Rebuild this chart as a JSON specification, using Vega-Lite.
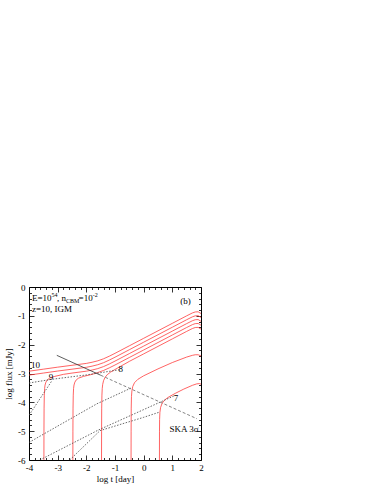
{
"$schema": "https://vega.github.io/schema/vega-lite/v6.json",
"autosize": {"type": "none"},
"padding": {"left": 29, "top": 287, "right": 173, "bottom": 24},
"width": 172,
"height": 173,
"background": "white",
"config": {"view": {"stroke": "black", "strokeWidth": 1}, "font": "Liberation Serif"},
"datasets": {
"red": [
{"s":"r1","i":0,"x":-4,"y":-2.92},{"s":"r1","i":1,"x":-3.5,"y":-2.85},{"s":"r1","i":2,"x":-3,"y":-2.78},{"s":"r1","i":3,"x":-2.5,"y":-2.715},{"s":"r1","i":4,"x":-2,"y":-2.65},{"s":"r1","i":5,"x":-1.8,"y":-2.61},{"s":"r1","i":6,"x":-1.6,"y":-2.56},{"s":"r1","i":7,"x":-1.4,"y":-2.49},{"s":"r1","i":8,"x":-1.2,"y":-2.4},{"s":"r1","i":9,"x":-1.0,"y":-2.3},{"s":"r1","i":10,"x":-0.5,"y":-2.04},{"s":"r1","i":11,"x":0,"y":-1.78},{"s":"r1","i":12,"x":0.5,"y":-1.52},{"s":"r1","i":13,"x":1,"y":-1.26},{"s":"r1","i":14,"x":1.5,"y":-1.0},{"s":"r1","i":15,"x":1.7,"y":-0.9},{"s":"r1","i":16,"x":1.8,"y":-0.865},{"s":"r1","i":17,"x":1.9,"y":-0.86},{"s":"r1","i":18,"x":2,"y":-0.92},
{"s":"r2","i":0,"x":-4,"y":-3.055},{"s":"r2","i":1,"x":-3.5,"y":-2.985},{"s":"r2","i":2,"x":-3,"y":-2.915},{"s":"r2","i":3,"x":-2.5,"y":-2.85},{"s":"r2","i":4,"x":-2,"y":-2.785},{"s":"r2","i":5,"x":-1.8,"y":-2.745},{"s":"r2","i":6,"x":-1.6,"y":-2.695},{"s":"r2","i":7,"x":-1.4,"y":-2.625},{"s":"r2","i":8,"x":-1.2,"y":-2.535},{"s":"r2","i":9,"x":-1.0,"y":-2.435},{"s":"r2","i":10,"x":-0.5,"y":-2.175},{"s":"r2","i":11,"x":0,"y":-1.915},{"s":"r2","i":12,"x":0.5,"y":-1.655},{"s":"r2","i":13,"x":1,"y":-1.395},{"s":"r2","i":14,"x":1.5,"y":-1.135},{"s":"r2","i":15,"x":1.7,"y":-1.035},{"s":"r2","i":16,"x":1.8,"y":-1.0},{"s":"r2","i":17,"x":1.9,"y":-0.995},{"s":"r2","i":18,"x":2,"y":-1.055},
{"s":"r3","i":0,"x":-3.48,"y":-6},{"s":"r3","i":1,"x":-3.478,"y":-5},{"s":"r3","i":2,"x":-3.474,"y":-4.2},{"s":"r3","i":3,"x":-3.466,"y":-3.75},{"s":"r3","i":4,"x":-3.455,"y":-3.52},{"s":"r3","i":5,"x":-3.44,"y":-3.4},{"s":"r3","i":6,"x":-3.41,"y":-3.3},{"s":"r3","i":7,"x":-3.36,"y":-3.22},{"s":"r3","i":8,"x":-3.28,"y":-3.16},{"s":"r3","i":9,"x":-3.1,"y":-3.1},{"s":"r3","i":10,"x":-2.8,"y":-3.03},{"s":"r3","i":11,"x":-2.5,"y":-2.985},{"s":"r3","i":12,"x":-2,"y":-2.92},{"s":"r3","i":13,"x":-1.8,"y":-2.88},{"s":"r3","i":14,"x":-1.6,"y":-2.83},{"s":"r3","i":15,"x":-1.4,"y":-2.76},{"s":"r3","i":16,"x":-1.2,"y":-2.67},{"s":"r3","i":17,"x":-1.0,"y":-2.57},{"s":"r3","i":18,"x":-0.5,"y":-2.31},{"s":"r3","i":19,"x":0,"y":-2.05},{"s":"r3","i":20,"x":0.5,"y":-1.79},{"s":"r3","i":21,"x":1,"y":-1.53},{"s":"r3","i":22,"x":1.5,"y":-1.27},{"s":"r3","i":23,"x":1.7,"y":-1.17},{"s":"r3","i":24,"x":1.8,"y":-1.135},{"s":"r3","i":25,"x":1.9,"y":-1.13},{"s":"r3","i":26,"x":2,"y":-1.19},
{"s":"r4","i":0,"x":-2.47,"y":-6},{"s":"r4","i":1,"x":-2.468,"y":-5},{"s":"r4","i":2,"x":-2.464,"y":-4.2},{"s":"r4","i":3,"x":-2.456,"y":-3.75},{"s":"r4","i":4,"x":-2.445,"y":-3.52},{"s":"r4","i":5,"x":-2.43,"y":-3.4},{"s":"r4","i":6,"x":-2.4,"y":-3.3},{"s":"r4","i":7,"x":-2.35,"y":-3.22},{"s":"r4","i":8,"x":-2.27,"y":-3.16},{"s":"r4","i":9,"x":-2.1,"y":-3.1},{"s":"r4","i":10,"x":-1.8,"y":-3.03},{"s":"r4","i":11,"x":-1.6,"y":-2.965},{"s":"r4","i":12,"x":-1.4,"y":-2.895},{"s":"r4","i":13,"x":-1.2,"y":-2.805},{"s":"r4","i":14,"x":-1.0,"y":-2.705},{"s":"r4","i":15,"x":-0.5,"y":-2.445},{"s":"r4","i":16,"x":0,"y":-2.185},{"s":"r4","i":17,"x":0.5,"y":-1.925},{"s":"r4","i":18,"x":1,"y":-1.665},{"s":"r4","i":19,"x":1.5,"y":-1.405},{"s":"r4","i":20,"x":1.7,"y":-1.305},{"s":"r4","i":21,"x":1.8,"y":-1.27},{"s":"r4","i":22,"x":1.9,"y":-1.265},{"s":"r4","i":23,"x":2,"y":-1.325},
{"s":"r5","i":0,"x":-1.47,"y":-6},{"s":"r5","i":1,"x":-1.468,"y":-5},{"s":"r5","i":2,"x":-1.464,"y":-4.2},{"s":"r5","i":3,"x":-1.456,"y":-3.75},{"s":"r5","i":4,"x":-1.445,"y":-3.52},{"s":"r5","i":5,"x":-1.43,"y":-3.38},{"s":"r5","i":6,"x":-1.4,"y":-3.25},{"s":"r5","i":7,"x":-1.35,"y":-3.14},{"s":"r5","i":8,"x":-1.27,"y":-3.04},{"s":"r5","i":9,"x":-1.15,"y":-2.95},{"s":"r5","i":10,"x":-1.0,"y":-2.86},{"s":"r5","i":11,"x":-0.5,"y":-2.58},{"s":"r5","i":12,"x":0,"y":-2.32},{"s":"r5","i":13,"x":0.5,"y":-2.06},{"s":"r5","i":14,"x":1,"y":-1.8},{"s":"r5","i":15,"x":1.5,"y":-1.54},{"s":"r5","i":16,"x":1.7,"y":-1.44},{"s":"r5","i":17,"x":1.8,"y":-1.405},{"s":"r5","i":18,"x":1.9,"y":-1.4},{"s":"r5","i":19,"x":2,"y":-1.46},
{"s":"r6","i":0,"x":-0.44,"y":-6},{"s":"r6","i":1,"x":-0.438,"y":-5},{"s":"r6","i":2,"x":-0.434,"y":-4.2},{"s":"r6","i":3,"x":-0.426,"y":-3.8},{"s":"r6","i":4,"x":-0.41,"y":-3.6},{"s":"r6","i":5,"x":-0.38,"y":-3.45},{"s":"r6","i":6,"x":-0.32,"y":-3.32},{"s":"r6","i":7,"x":-0.2,"y":-3.2},{"s":"r6","i":8,"x":0,"y":-3.08},{"s":"r6","i":9,"x":0.5,"y":-2.84},{"s":"r6","i":10,"x":1,"y":-2.62},{"s":"r6","i":11,"x":1.5,"y":-2.43},{"s":"r6","i":12,"x":1.7,"y":-2.37},{"s":"r6","i":13,"x":1.8,"y":-2.35},{"s":"r6","i":14,"x":1.9,"y":-2.35},{"s":"r6","i":15,"x":2,"y":-2.39},
{"s":"r7","i":0,"x":0.55,"y":-6},{"s":"r7","i":1,"x":0.552,"y":-5},{"s":"r7","i":2,"x":0.556,"y":-4.6},{"s":"r7","i":3,"x":0.566,"y":-4.35},{"s":"r7","i":4,"x":0.59,"y":-4.18},{"s":"r7","i":5,"x":0.64,"y":-4.04},{"s":"r7","i":6,"x":0.72,"y":-3.93},{"s":"r7","i":7,"x":0.85,"y":-3.83},{"s":"r7","i":8,"x":1.1,"y":-3.69},{"s":"r7","i":9,"x":1.4,"y":-3.54},{"s":"r7","i":10,"x":1.7,"y":-3.41},{"s":"r7","i":11,"x":1.85,"y":-3.36},{"s":"r7","i":12,"x":1.95,"y":-3.35},{"s":"r7","i":13,"x":2,"y":-3.37}
],
"dot": [
{"s":"d1","i":0,"x":-4,"y":-3.33},{"s":"d1","i":1,"x":-3.2,"y":-3.2},{"s":"d1","i":2,"x":-2,"y":-3.05},{"s":"d1","i":3,"x":-0.85,"y":-2.87},
{"s":"d2","i":0,"x":-4,"y":-4.45},{"s":"d2","i":1,"x":-3.2,"y":-3.25},
{"s":"d3","i":0,"x":-4,"y":-5.39},{"s":"d3","i":1,"x":-1.63,"y":-4.05},{"s":"d3","i":2,"x":-0.43,"y":-3.5},
{"s":"d4","i":0,"x":-3.62,"y":-6},{"s":"d4","i":1,"x":-1.6,"y":-4.97},{"s":"d4","i":2,"x":1.05,"y":-3.78},
{"s":"d5","i":0,"x":-2.58,"y":-6},{"s":"d5","i":1,"x":-1.52,"y":-4.98},{"s":"d5","i":2,"x":0,"y":-4.52},{"s":"d5","i":3,"x":0.55,"y":-4.34}
],
"ska1": [{"x":-3.03,"y":-2.37},{"x":-1.5,"y":-3.06}],
"ska2": [{"x":-1.5,"y":-3.06},{"x":1.86,"y":-4.57}],
"txt": [
{"x":-3.895,"y":-0.87,"t":"z=10, IGM"},
{"x":1.28,"y":-0.59,"t":"(b)"},
{"x":-3.93,"y":-2.82,"t":"10"},
{"x":-3.31,"y":-3.22,"t":"9"},
{"x":-0.88,"y":-2.95,"t":"8"},
{"x":1.05,"y":-3.94,"t":"7"},
{"x":0.905,"y":-5.04,"t":"SKA 3σ"},
{"x":-3.895,"y":-0.488,"t":"E=10"},
{"x":-3.02,"y":-0.488,"t":", n"},
{"x":-2.27,"y":-0.488,"t":"=10"}
],
"sup": [
{"x":-3.213,"y":-0.35,"t":"54"},
{"x":-1.78,"y":-0.35,"t":"-2"},
{"x":-2.706,"y":-0.56,"t":"CBM"}
]
},
"layer": [
{
"data": {"name": "red"},
"mark": {"type": "line", "color": "#ff3030", "strokeWidth": 0.75, "clip": true},
"encoding": {
"x": {"field": "x", "type": "quantitative", "scale": {"domain": [-4, 2], "nice": false, "zero": false},
"axis": {"orient": "bottom", "values": [-4,-3,-2,-1,0,1,2], "ticks": false, "domain": false, "grid": false, "labelFlush": false, "labelOverlap": false, "labelExpr": "'' + datum.value", "labelFont": "Liberation Serif", "labelFontSize": 9, "labelColor": "black", "labelPadding": 3, "title": "log t [day]", "titleFont": "Liberation Serif", "titleFontSize": 9, "titleFontWeight": "normal", "titleColor": "black", "titlePadding": 2}},
"y": {"field": "y", "type": "quantitative", "scale": {"domain": [-6, 0], "nice": false, "zero": false},
"axis": {"orient": "left", "values": [-6,-5,-4,-3,-2,-1,0], "ticks": false, "domain": false, "grid": false, "labelFlush": false, "labelOverlap": false, "labelExpr": "'' + datum.value", "labelFont": "Liberation Serif", "labelFontSize": 9, "labelColor": "black", "labelPadding": 4, "title": "log flux [mJy]", "titleFont": "Liberation Serif", "titleFontSize": 9, "titleFontWeight": "normal", "titleColor": "black", "titlePadding": 4}},
"detail": {"field": "s"},
"order": {"field": "i", "type": "quantitative"}
}
},
{
"data": {"name": "dot"},
"mark": {"type": "line", "color": "#444444", "strokeWidth": 0.8, "strokeDash": [1.5, 1.5], "clip": true},
"encoding": {
"x": {"field": "x", "type": "quantitative",
"axis": {"orient": "bottom", "values": [-4,-3.8,-3.6,-3.4,-3.2,-3,-2.8,-2.6,-2.4,-2.2,-2,-1.8,-1.6,-1.4,-1.2,-1,-0.8,-0.6,-0.4,-0.2,0,0.2,0.4,0.6,0.8,1,1.2,1.4,1.6,1.8,2], "labels": false, "domain": false, "grid": false, "tickColor": "black", "tickWidth": 0.8, "tickSize": {"condition": {"test": "abs(datum.value % 1) < 0.001", "value": -5}, "value": -2.5}, "title": null}},
"y": {"field": "y", "type": "quantitative",
"axis": {"orient": "left", "values": [-6,-5.8,-5.6,-5.4,-5.2,-5,-4.8,-4.6,-4.4,-4.2,-4,-3.8,-3.6,-3.4,-3.2,-3,-2.8,-2.6,-2.4,-2.2,-2,-1.8,-1.6,-1.4,-1.2,-1,-0.8,-0.6,-0.4,-0.2,0], "labels": false, "domain": false, "grid": false, "tickColor": "black", "tickWidth": 0.8, "tickSize": {"condition": {"test": "abs(datum.value % 1) < 0.001", "value": -5}, "value": -2.5}, "title": null}},
"detail": {"field": "s"},
"order": {"field": "i", "type": "quantitative"}
}
},
{
"data": {"name": "ska1"},
"mark": {"type": "line", "color": "#333333", "strokeWidth": 0.8},
"encoding": {
"x": {"field": "x", "type": "quantitative",
"axis": {"orient": "top", "values": [-4,-3.8,-3.6,-3.4,-3.2,-3,-2.8,-2.6,-2.4,-2.2,-2,-1.8,-1.6,-1.4,-1.2,-1,-0.8,-0.6,-0.4,-0.2,0,0.2,0.4,0.6,0.8,1,1.2,1.4,1.6,1.8,2], "labels": false, "domain": false, "grid": false, "tickColor": "black", "tickWidth": 0.8, "tickSize": {"condition": {"test": "abs(datum.value % 1) < 0.001", "value": -5}, "value": -2.5}, "title": null}},
"y": {"field": "y", "type": "quantitative",
"axis": {"orient": "right", "values": [-6,-5.8,-5.6,-5.4,-5.2,-5,-4.8,-4.6,-4.4,-4.2,-4,-3.8,-3.6,-3.4,-3.2,-3,-2.8,-2.6,-2.4,-2.2,-2,-1.8,-1.6,-1.4,-1.2,-1,-0.8,-0.6,-0.4,-0.2,0], "labels": false, "domain": false, "grid": false, "tickColor": "black", "tickWidth": 0.8, "tickSize": {"condition": {"test": "abs(datum.value % 1) < 0.001", "value": -5}, "value": -2.5}, "title": null}}
}
},
{
"data": {"name": "ska2"},
"mark": {"type": "line", "color": "#666666", "strokeWidth": 0.8, "strokeDash": [3, 2]},
"encoding": {
"x": {"field": "x", "type": "quantitative", "axis": null},
"y": {"field": "y", "type": "quantitative", "axis": null}
}
},
{
"data": {"name": "txt"},
"mark": {"type": "text", "align": "left", "baseline": "alphabetic", "font": "Liberation Serif", "fontSize": 9, "color": "black"},
"encoding": {
"x": {"field": "x", "type": "quantitative", "axis": null},
"y": {"field": "y", "type": "quantitative", "axis": null},
"text": {"field": "t"}
}
},
{
"data": {"name": "sup"},
"mark": {"type": "text", "align": "left", "baseline": "alphabetic", "font": "Liberation Serif", "fontSize": 6, "color": "black"},
"encoding": {
"x": {"field": "x", "type": "quantitative", "axis": null},
"y": {"field": "y", "type": "quantitative", "axis": null},
"text": {"field": "t"}
}
}
],
"resolve": {"axis": {"x": "independent", "y": "independent"}}
}
